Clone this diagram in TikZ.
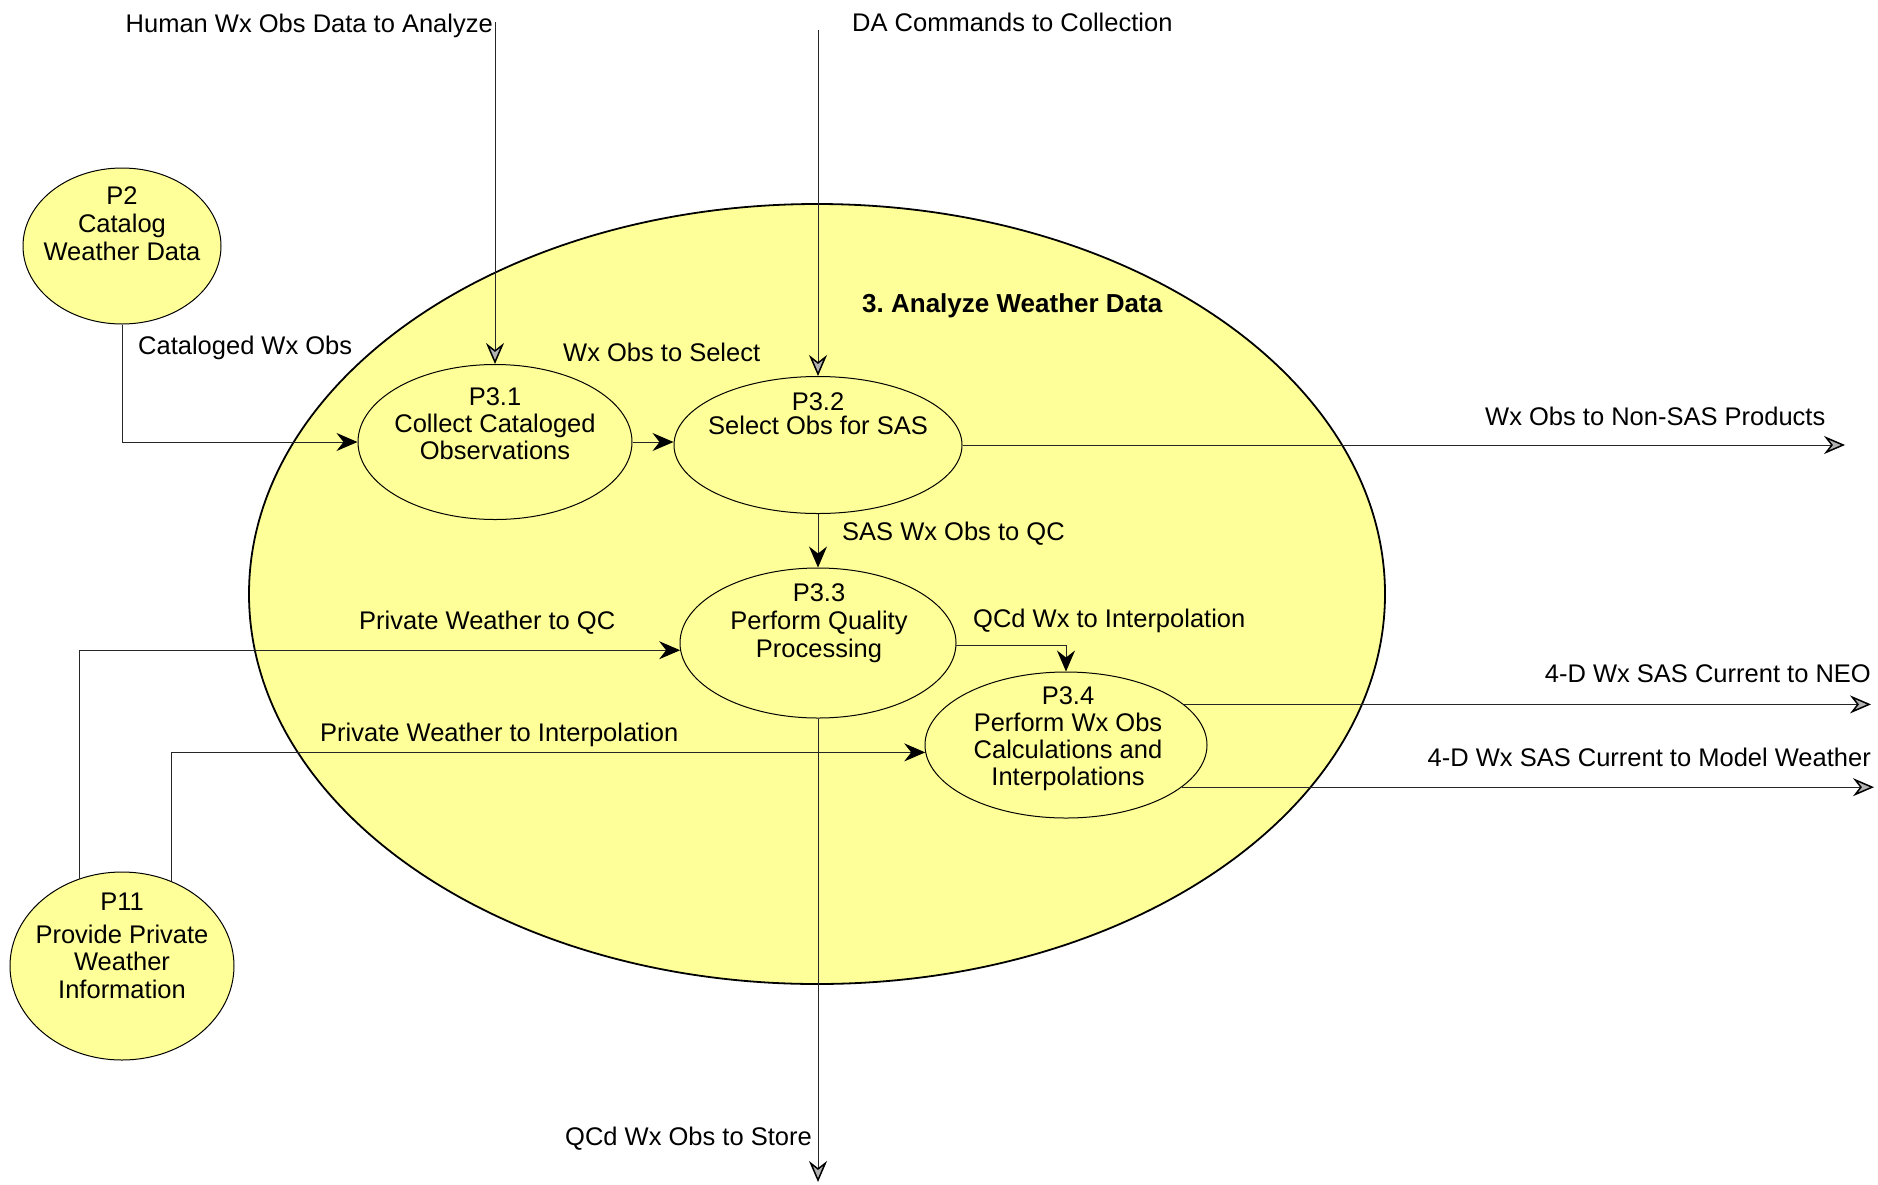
\documentclass[tikz,border=0pt]{standalone}
\usepackage{fontspec}
\setmainfont{Liberation Sans}
\usetikzlibrary{arrows.meta,shapes.geometric}
\definecolor{dfdyellow}{RGB}{255,255,153}
\begin{document}
\begin{tikzpicture}[x=1pt,y=-1pt,
  proc/.style={ellipse, draw=black, fill=dfdyellow, line width=1pt, inner sep=0pt},
  ptext/.style={inner sep=0pt, align=center, anchor=north, font=\fontsize{25.5}{27.5}\selectfont},
  lbl/.style={inner sep=0pt, font=\fontsize{25.5}{27.5}\selectfont},
  flow/.style={draw=black!85, line width=1pt, -{Stealth[length=21pt,width=18pt,inset=7pt,color=black]}},
  ext/.style={draw=black!85, line width=1pt, -{Stealth[length=21pt,width=18pt,inset=7pt,color=black,fill=gray!60,line width=1.5pt]}}]
\useasboundingbox (0,0) rectangle (1878,1184);
\fill[white] (0,0) rectangle (1878,1184);

% context process
\node[proc, line width=1.8pt, minimum width=1136pt, minimum height=780pt] (ctx) at (817,594) {};
\node[lbl, anchor=base west, font=\fontsize{26}{28}\selectfont\bfseries] (title) at (862,312) {3.\ Analyze Weather Data};

% external processes
\node[proc, minimum width=198pt, minimum height=156pt] (p2) at (122,246) {};
\node[ptext, align=center] (p2t) at (122,184.75) {\strut P2\\[0.5pt]Catalog\\[0.5pt]Weather Data};
\node[proc, minimum width=224pt, minimum height=188pt] (p11) at (122,966) {};
\node[ptext] (p11t) at (122,890.75) {\strut P11\\[5.5pt]Provide Private\\Weather\\Information};

% sub-processes
\node[proc, minimum width=274pt, minimum height=155pt] (p31) at (495,442) {};
\node[ptext] (p31t) at (495,385.75) {\strut P3.1\\[-0.5pt]Collect Cataloged\\[-0.5pt]Observations};
\node[proc, minimum width=288pt, minimum height=137pt] (p32) at (818,445) {};
\node[ptext] (p32t) at (818,390.75) {\strut P3.2\\[-3.5pt]Select Obs for SAS};
\node[proc, minimum width=276pt, minimum height=150pt] (p33) at (818,643) {};
\node[ptext] (p33t) at (819,581.75) {\strut P3.3\\[0.5pt]Perform Quality\\[0.5pt]Processing};
\node[proc, minimum width=282pt, minimum height=146pt] (p34) at (1066,745) {};
\node[ptext] (p34t) at (1068,684.75) {\strut P3.4\\[-0.5pt]Perform Wx Obs\\[-0.5pt]Calculations and\\[-0.5pt]Interpolations};

% free ends
\coordinate (hin) at (495,22);
\coordinate (dain) at (818,30);
\coordinate (nonsas) at (1845,0);
\coordinate (neo) at (1871,0);
\coordinate (model) at (1874,0);
\coordinate (store) at (818,1182);

% connectors
\draw[ext] (hin) -- (p31.north);
\draw[ext] (dain) -- (p32.north);
\draw[flow] (p2.south) |- (p31.west);
\draw[flow] (p31.east) -- (p31.east -| p32.west);
\draw[ext] (p32.east) -- (p32.east -| nonsas);
\draw[flow] (p32.south) -- (p33.north);
\draw[flow] (p11.116) |- (p33.183);
\draw[flow] (p33.-1) -| (p34.north);
\draw[flow] (p11.60) |- (p34.183);
\draw[ext] (p33.south) -- (store);
\draw[ext] (p34.19) -- (p34.19 -| neo);
\draw[ext] (p34.-20) -- (p34.-20 -| model);

% labels
\node[lbl, anchor=base east] (humanlbl) at (493,32) {Human Wx Obs Data to Analyze};
\node[lbl, anchor=base west] (dalbl) at (852,31) {DA Commands to Collection};
\node[lbl, anchor=base west] (catlbl) at (138,354) {Cataloged Wx Obs};
\node[lbl, anchor=base west] (sellbl) at (563,361) {Wx Obs to Select};
\node[lbl, anchor=base west] (nonsaslbl) at (1485,425) {Wx Obs to Non-SAS Products};
\node[lbl, anchor=base west] (saslbl) at (842,540) {SAS Wx Obs to QC};
\node[lbl, anchor=base west] (pqclbl) at (359,629) {Private Weather to QC};
\node[lbl, anchor=base west] (qcdilbl) at (973,627) {QCd Wx to Interpolation};
\node[lbl, anchor=base west] (pilbl) at (320,741) {Private Weather to Interpolation};
\node[lbl, anchor=base east] (storelbl) at (812,1145) {QCd Wx Obs to Store};
\node[lbl, anchor=base east] (neolbl) at (1871,682) {4-D Wx SAS Current to NEO};
\node[lbl, anchor=base east] (modellbl) at (1871,766) {4-D Wx SAS Current to Model Weather};
\end{tikzpicture}
\end{document}
